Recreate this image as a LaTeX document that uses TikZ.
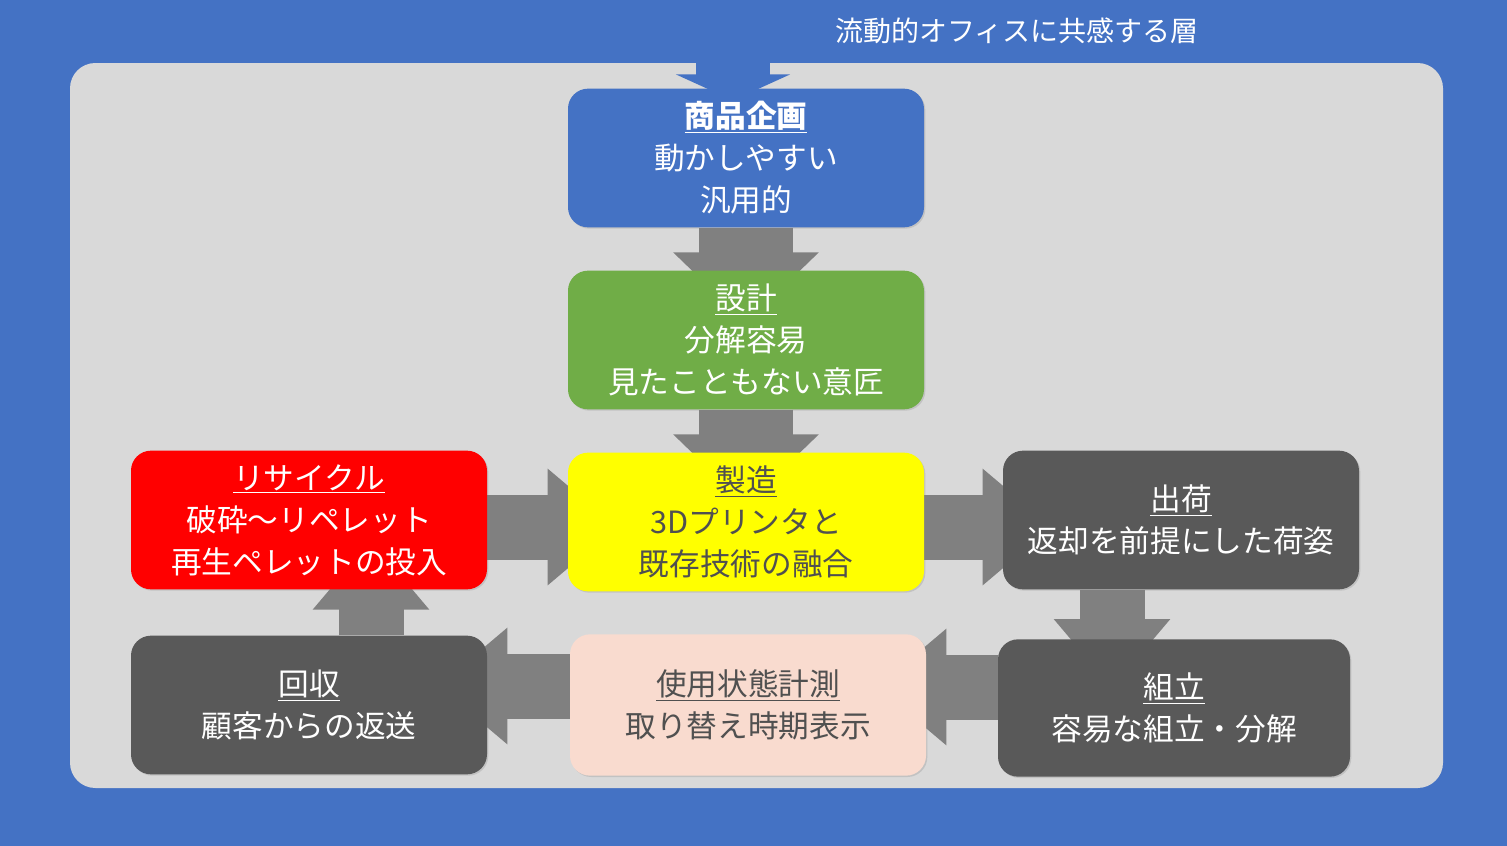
\documentclass[tikz,border=0pt]{standalone}
\usepackage{fontspec}
\setmainfont{Noto Sans CJK JP}
\usepackage{xcolor}
\definecolor{slide}{RGB}{68,114,196}
\definecolor{panel}{RGB}{217,217,217}
\definecolor{leaf}{RGB}{112,173,71}
\definecolor{lemon}{RGB}{255,255,0}
\definecolor{alarm}{RGB}{255,0,0}
\definecolor{slate}{RGB}{89,89,89}
\definecolor{blush}{RGB}{249,219,207}
\definecolor{pipe}{RGB}{128,128,128}
\definecolor{ink}{RGB}{80,80,80}
\usetikzlibrary{arrows.meta,calc,shadows}
\pgfdeclarelayer{bg}
\pgfdeclarelayer{arr}
\pgfsetlayers{bg,arr,main}
\tikzset{
  %% process boxes
  stage/.style={rounded corners=15pt, minimum width=267pt, minimum height=104pt,
    align=center, text=white, font=\fontsize{23}{31.5}\selectfont,
    drop shadow={shadow xshift=1pt, shadow yshift=-1pt, opacity=0.25}},
  %% block arrows, tips hidden under the target box
  flow/.style={draw=pipe, line width=48.75pt,
    -{Triangle[length=52pt,width=84pt]}, shorten >=-37pt},
  flowwide/.style={draw=pipe, line width=71pt,
    -{Triangle[length=53pt,width=106pt]}, shorten >=-39.5pt},
}

\begin{document}
\begin{tikzpicture}[x=0.75pt,y=-0.75pt]
  \useasboundingbox (0,0) rectangle (1507,846);
  \begin{pgfonlayer}{bg}
    \fill[slide] (0,0) rectangle (1507,846);
    \fill[panel, rounded corners=19pt] (70,63) rectangle (1443,788);
  \end{pgfonlayer}
  \node[text=white, font=\fontsize{21}{25}\selectfont] (layer) at (1017,31)
    {流動的オフィスに共感する層};
  %% boxes
  \node[stage, fill=slide] (plan) at (746,158)
    {{\bfseries\underline{商品企画}}\\動かしやすい\\汎用的};
  \node[stage, fill=leaf] (design) at (746,340)
    {\underline{設計}\\分解容易\\見たこともない意匠};
  \node[stage, fill=lemon, text=ink] (make) at (746,522)
    {\underline{製造}\\3Dプリンタと\\既存技術の融合};
  \node[stage, fill=alarm] (recycle) at (309,520)
    {\underline{リサイクル}\\破砕～リペレット\\再生ペレットの投入};
  \node[stage, fill=slate] (ship) at (1181,520)
    {\underline{出荷}\\返却を前提にした荷姿};
  \node[stage, fill=slate, minimum width=264pt, minimum height=103pt] (assemble) at (1174,708)
    {\underline{組立}\\容易な組立・分解};
  \node[stage, fill=blush, text=ink, minimum height=106pt] (usage) at (748,705)
    {\underline{使用状態計測}\\取り替え時期表示};
  \node[stage, fill=slate] (collect) at (309,705)
    {\underline{回収}\\顧客からの返送};
  %% arrows
  \coordinate (feed) at (733,20);
  \coordinate (s1) at ($(ship.south)+(-69,0)$);
  \coordinate (s2) at ($(assemble.west)+(0,-21)$);
  \coordinate (s3) at ($(usage.west)+(0,-19)$);
  \coordinate (s4) at ($(collect.north)+(62,0)$);
  \begin{pgfonlayer}{arr}
    \draw[draw=slide, line width=55pt, -{Triangle[length=19.5pt,width=85pt]},
      shorten >=-9pt] (feed) -- (feed |- plan.north);
    \draw[flowwide] (plan.south) -- (design.north);
    \draw[flowwide] (design.south) -- (make.north);
    \draw[flow] ($(recycle.east)+(0,7)$) -- ($(make.west)+(0,5)$);
    \draw[flow] ($(make.east)+(0,5)$) -- ($(ship.west)+(0,7)$);
    \draw[flow] (s1) -- (s1 |- assemble.north);
    \draw[flow] (s2) -- (s2 -| usage.east);
    \draw[flow] (s3) -- (s3 -| collect.east);
    \draw[flow] (s4) -- (s4 |- recycle.south);
  \end{pgfonlayer}
\end{tikzpicture}
\end{document}
